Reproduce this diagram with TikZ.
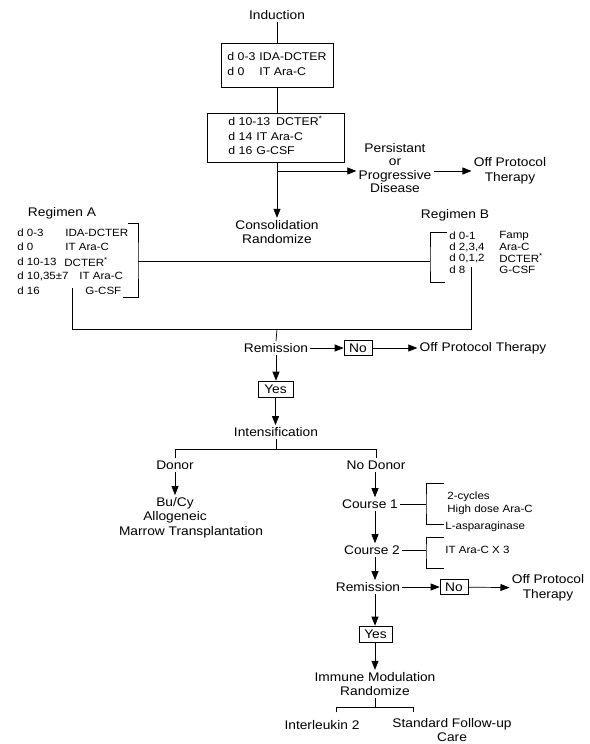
\documentclass[tikz,border=0pt]{standalone}
\usepackage{fontspec}
\setmainfont{Liberation Sans}[FakeStretch=1.1]
\usetikzlibrary{arrows.meta}
\begin{document}
\begin{tikzpicture}[x=1pt,y=-1pt, line width=0.7pt,
 txt/.style={font=\fontsize{12.5}{14.5}\selectfont, align=center, inner sep=2pt},
 small/.style={font=\fontsize{10.5}{11.5}\selectfont, inner sep=0pt, anchor=west},
 boxtxt/.style={draw, font=\fontsize{11.2}{14.5}\selectfont, align=left, inner sep=0pt},
 yn/.style={draw, font=\fontsize{12.5}{14}\selectfont, inner sep=1pt, minimum height=15pt, minimum width=30pt},
 arr/.style={-{Triangle[length=9pt,width=7pt]}}]
\useasboundingbox (0,0) rectangle (589,744);
% ---------- induction
\node[txt] (ind) at (277,15) {Induction};
\node[boxtxt, minimum width=112pt, minimum height=44pt] (b1) at (277,65)
 {\begin{tabular}{@{}l@{\hspace{4pt}}l@{}}d 0-3 & IDA-DCTER\\ d 0 & IT Ara-C\end{tabular}};
\node[boxtxt, minimum width=137pt, minimum height=49pt] (b2) at (275.5,137.5)
 {\begin{tabular}{@{}l@{}}d 10-13\hspace{6pt}DCTER\textsuperscript{*}\\ d 14\hspace{4pt}IT Ara-C\\ d 16\hspace{4pt}G-CSF\end{tabular}};
\draw (ind.south) -- (ind.south |- b1.north);
\draw (ind.south |- b1.south) -- (ind.south |- b2.north);
\node[txt, font=\fontsize{12.5}{13.3}\selectfont] (pers) at (395,168) {Persistant\\or\\Progressive\\Disease};
\node[txt, font=\fontsize{12.5}{15}\selectfont] (off1) at (510,171) {Off Protocol\\Therapy};
\node[txt] (cons) at (277,232) {Consolidation\\Randomize};
\coordinate (split) at (277,171);
\draw[arr] (ind.south |- b2.south) -- (cons.north);
\draw[arr] (split) -- (split -| pers.west);
\draw[arr] (split -| pers.east) -- (split -| off1.west);
% ---------- regimen A
\node[txt] (rega) at (62,213) {Regimen A};
\node[small] (a1l) at (17,233) {d 0-3};
\node[small] (a1r) at (65,233) {IDA-DCTER};
\node[small] (a2l) at (17,247) {d 0};
\node[small] (a2r) at (65,247) {IT Ara-C};
\node[small] (a3l) at (17,262) {d 10-13};
\node[small] (a3r) at (64,262) {DCTER\textsuperscript{*}};
\node[small] (a4l) at (17,276) {d 10,35±7};
\node[small] (a4r) at (79,276) {IT Ara-C};
\node[small] (a5l) at (17,291) {d 16};
\node[small] (a5r) at (85,291) {G-CSF};
% ---------- regimen B
\node[txt] (regb) at (455,215) {Regimen B};
\node[small] (b1l) at (449,236) {d 0-1};
\node[small] (b1r) at (499,236) {Famp};
\node[small] (b2l) at (449,247) {d 2,3,4};
\node[small] (b2r) at (499,247) {Ara-C};
\node[small] (b3l) at (449,258) {d 0,1,2};
\node[small] (b3r) at (499,258) {DCTER\textsuperscript{*}};
\node[small] (b4l) at (449,270) {d 8};
\node[small] (b4r) at (499,270) {G-CSF};
% brackets
\coordinate (brA) at (138,261);
\coordinate (brB) at (430,261);
\draw (128,223) -| (brA) |- (123,297);
\draw (447,232) -| (brB) |- (445,282);
\draw (brA) -- (brB);
\coordinate (vb) at (471,267);
\coordinate (va) at (72,288);
\coordinate (jb) at (471,329);
\coordinate (ja) at (72,329);
\coordinate (jc) at (277,329);
\draw (vb) -- (jb) -- (ja) -- (va);
% ---------- remission 1
\node[txt] (rem1) at (276,348) {Remission};
\node[yn, minimum width=28pt] (no1) at (358,348) {No};
\node[txt] (off2) at (483,348) {Off Protocol Therapy};
\node[yn, minimum width=35pt, minimum height=16pt] (yes1) at (275.5,389) {Yes};
\node[txt] (int) at (276,432) {Intensification};
\draw (jc) -- (rem1.north);
\draw[arr] (rem1) -- (no1);
\draw[arr] (no1) -- (off2);
\draw[arr] (rem1.south) -- (rem1.south |- yes1.north);
\draw[arr] (yes1.south) -- (yes1.south |- int.north);
% ---------- intensification split
\node[txt] (don) at (175,465) {Donor};
\node[txt] (nod) at (376,465) {No Donor};
\coordinate (hl) at (175,449);
\coordinate (hr) at (376,449);
\draw (int.south) -- (int.south |- hl);
\draw (don.north) -- (hl) -- (hr) -- (nod.north);
\node[txt] (bmt1) at (175,510.5) {Bu/Cy\\Allogeneic};
\node[txt] (bmt2) at (191,532) {Marrow Transplantation};
\draw[arr] (don.south) -- (bmt1.north);
% ---------- no donor column
\coordinate (colx) at (375,0);
\node[txt] (c1) at (370,504) {Course 1};
\node[txt] (c2) at (372,550) {Course 2};
\node[txt] (rem2) at (368,587) {Remission};
\draw[arr] (nod.south -| colx) -- (c1.north -| colx);
\draw[arr] (c1.south -| colx) -- (c2.north -| colx);
\draw[arr] (c2.south -| colx) -- (rem2.north -| colx);
% course brackets
\coordinate (k1) at (426,504);
\coordinate (k2) at (426,550);
\draw (444,483) -| (k1) |- (444,524);
\draw (444,537) -| (k2) |- (444,568);
\draw (c1.east) -- (k1);
\draw (c2.east) -- (k2);
\node[small] (t1) at (447,497) {2-cycles};
\node[small] (t2) at (447,510) {High dose Ara-C};
\node[small] (t3) at (445,527) {L-asparaginase};
\node[small] (t4) at (445,550) {IT Ara-C X 3};
\node[yn, minimum width=28pt] (no2) at (454,587) {No};
\node[txt, font=\fontsize{12.5}{15}\selectfont] (off3) at (548,588) {Off Protocol\\Therapy};
\draw[arr] (rem2) -- (no2);
\draw[arr] (no2) -- (off3);
\node[yn, minimum width=33pt, minimum height=16pt] (yes2) at (375.5,634) {Yes};
\node[txt] (imm) at (375,684) {Immune Modulation\\Randomize};
\draw[arr] (rem2.south -| colx) -- (yes2.north -| colx);
\draw[arr] (yes2.south -| colx) -- (imm.north -| colx);
\node[txt] (il2) at (322,725) {Interleukin 2};
\node[txt, font=\fontsize{12.5}{13.5}\selectfont] (sfc) at (452,730) {Standard Follow-up\\Care};
\coordinate (im) at (375,707);
\coordinate (il) at (336,707);
\coordinate (ir) at (413,707);
\coordinate (ild) at (336,712);
\coordinate (ird) at (413,712);
\draw (imm.south -| im) -- (im);
\draw (ild) -- (il) -- (ir) -- (ird);
\end{tikzpicture}
\end{document}
